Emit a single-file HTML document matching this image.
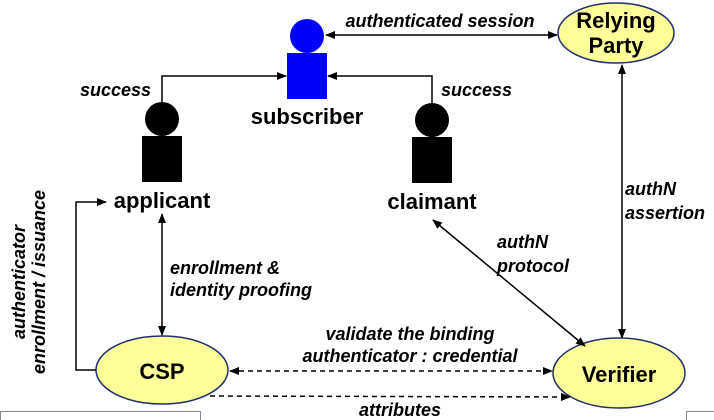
<!DOCTYPE html>
<html><head><style>
body{margin:0;background:#fff}
svg{display:block;font-family:"Liberation Sans",Arial,sans-serif;font-weight:bold}
.i{font-style:italic;font-size:18px}
.n{font-size:22px}
</style></head><body>
<svg width="714" height="420" viewBox="0 0 714 420">
<defs>
<marker id="a" markerWidth="10" markerHeight="8" refX="9" refY="4" orient="auto-start-reverse" markerUnits="userSpaceOnUse"><path d="M0,0 L10,4 L0,8 z" fill="#000"/></marker>
</defs>
<circle cx="307" cy="36" r="17" fill="#0000ff"/>
<rect x="287" y="53" width="40" height="46" fill="#0000ff"/>
<text x="307" y="124" class="n" text-anchor="middle">subscriber</text>
<circle cx="162" cy="119" r="17" fill="#000"/>
<rect x="142" y="136" width="40" height="46" fill="#000"/>
<text x="162" y="208" class="n" text-anchor="middle">applicant</text>
<circle cx="432" cy="120" r="17" fill="#000"/>
<rect x="412" y="137" width="40" height="46" fill="#000"/>
<text x="432" y="209" class="n" text-anchor="middle">claimant</text>
<path d="M162,102 V76 H286" fill="none" stroke="#000" stroke-width="1.5" marker-end="url(#a)"/>
<path d="M432,103 V76 H328" fill="none" stroke="#000" stroke-width="1.5" marker-end="url(#a)"/>
<text x="80" y="96" class="i">success</text>
<text x="441" y="96" class="i">success</text>
<line x1="326" y1="35" x2="557" y2="35" stroke="#000" stroke-width="1.5" marker-start="url(#a)" marker-end="url(#a)"/>
<text x="440" y="27" class="i" text-anchor="middle">authenticated session</text>
<ellipse cx="616" cy="33" rx="58" ry="30" fill="#ffff99" stroke="#1f2f6f" stroke-width="1.5"/>
<text x="616" y="28" class="n" text-anchor="middle" font-size="19">Relying</text>
<text x="616" y="53" class="n" text-anchor="middle" font-size="19">Party</text>
<line x1="622" y1="65" x2="622" y2="338" stroke="#000" stroke-width="1.5" marker-start="url(#a)" marker-end="url(#a)"/>
<text x="625" y="195" class="i">authN</text>
<text x="625" y="219" class="i">assertion</text>
<ellipse cx="619" cy="373" rx="66" ry="35" fill="#ffff99" stroke="#1f2f6f" stroke-width="1.5"/>
<text x="619" y="382" class="n" text-anchor="middle" font-size="25">Verifier</text>
<ellipse cx="162" cy="370" rx="66" ry="34" fill="#ffff99" stroke="#1f2f6f" stroke-width="1.5"/>
<text x="162" y="379" class="n" text-anchor="middle" font-size="25">CSP</text>
<path d="M96,370 H76 V202 H106" fill="none" stroke="#000" stroke-width="1.5" marker-end="url(#a)"/>
<text transform="translate(25,282) rotate(-90)" class="i" text-anchor="middle">authenticator</text>
<text transform="translate(45,282) rotate(-90)" class="i" text-anchor="middle">enrollment / issuance</text>
<line x1="162" y1="214" x2="162" y2="335" stroke="#000" stroke-width="1.5" marker-start="url(#a)" marker-end="url(#a)"/>
<text x="170" y="274" class="i">enrollment &amp;</text>
<text x="170" y="296" class="i">identity proofing</text>
<line x1="433" y1="220" x2="585" y2="346" stroke="#000" stroke-width="1.5" marker-start="url(#a)" marker-end="url(#a)"/>
<text x="497" y="248" class="i">authN</text>
<text x="497" y="272" class="i">protocol</text>
<line x1="230" y1="371" x2="552" y2="371" stroke="#000" stroke-width="1.5" stroke-dasharray="5,4" marker-start="url(#a)" marker-end="url(#a)"/>
<text x="410" y="340" class="i" text-anchor="middle">validate the binding</text>
<text x="410" y="362" class="i" text-anchor="middle">authenticator : credential</text>
<line x1="210" y1="396" x2="570" y2="397" stroke="#000" stroke-width="1.5" stroke-dasharray="5,4" marker-end="url(#a)"/>
<text x="400" y="416" class="i" text-anchor="middle">attributes</text>
<rect x="0.5" y="411.5" width="200" height="10" fill="#fff" stroke="#888"/>
<rect x="686.5" y="411.5" width="30" height="10" fill="#fff" stroke="#888"/>
</svg>
</body></html>
